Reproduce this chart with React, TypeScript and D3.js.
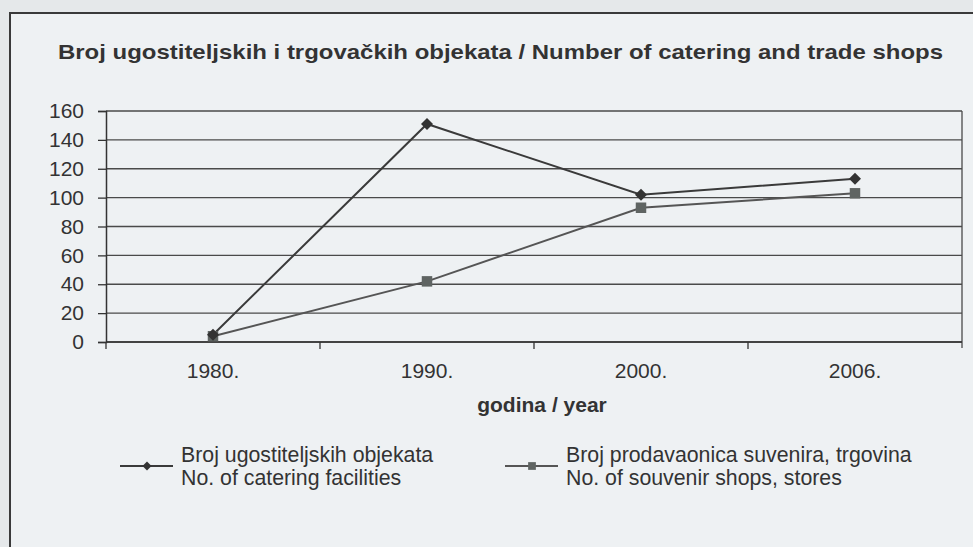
import React, { useEffect, useRef } from "react";
import * as d3 from "d3";

const years = ["1980.", "1990.", "2000.", "2006."];
const catering = [5, 151, 102, 113];
const souvenir = [4, 42, 93, 103];
const yTicks = [0, 20, 40, 60, 80, 100, 120, 140, 160];

const title = "Broj ugostiteljskih i trgovačkih objekata / Number of catering and trade shops";
const xTitle = "godina / year";
const legend1 = ["Broj ugostiteljskih objekata", "No. of catering facilities"];
const legend2 = ["Broj prodavaonica suvenira, trgovina", "No. of souvenir shops, stores"];

export default function App() {
  const ref = useRef<SVGSVGElement>(null);

  useEffect(() => {
    var width = 973,
      height = 547;
    var margin = { top: 111, right: 11, bottom: 205, left: 106 };
    var font = "'Liberation Sans', Arial, sans-serif";
    var ink = "#333";

    var svg = d3.select(ref.current);
    svg.selectAll("*").remove();
    svg.attr("width", width).attr("height", height);

    // paper + frame
    svg.append("rect").attr("width", width).attr("height", height).attr("fill", "#e5e8ea");
    svg
      .append("rect")
      .attr("x", 10)
      .attr("y", 13)
      .attr("width", width + 10)
      .attr("height", height + 10)
      .attr("fill", "#eef1f3")
      .attr("stroke", "#3a3a3a")
      .attr("stroke-width", 2);

    svg
      .append("text")
      .attr("x", 58)
      .attr("y", 59)
      .attr("textLength", 885)
      .attr("lengthAdjust", "spacingAndGlyphs")
      .attr("font-family", font)
      .attr("font-weight", "bold")
      .attr("font-size", 20.5)
      .attr("fill", ink)
      .text(title);

    var x = d3
      .scaleBand()
      .domain(years)
      .range([margin.left, width - margin.right]);
    var y = d3
      .scaleLinear()
      .domain([0, 160])
      .range([height - margin.bottom, margin.top]);

    var g = svg.append("g");

    // gridlines
    g.selectAll(".grid")
      .data(yTicks)
      .enter()
      .append("line")
      .attr("x1", margin.left)
      .attr("x2", width - margin.right)
      .attr("y1", d => y(d))
      .attr("y2", d => y(d))
      .attr("stroke", "#4a4a4a")
      .attr("stroke-width", 1.3);

    // right border
    g.append("line")
      .attr("x1", width - margin.right)
      .attr("x2", width - margin.right)
      .attr("y1", y(160))
      .attr("y2", y(0) + 6)
      .attr("stroke", "#4a4a4a")
      .attr("stroke-width", 1.3);

    // y axis
    var yAxis = g
      .append("g")
      .attr("transform", "translate(" + margin.left + ",0)")
      .call(d3.axisLeft(y).tickValues(yTicks).tickSize(8).tickPadding(14));
    yAxis.select(".domain").attr("stroke", ink).attr("stroke-width", 1.5);
    yAxis.selectAll(".tick line").attr("stroke", ink).attr("stroke-width", 1.3);
    yAxis
      .selectAll(".tick text")
      .attr("font-family", font)
      .attr("font-size", 21)
      .attr("fill", ink);

    // x axis with ticks at band boundaries
    var xAxisG = g.append("g").attr("transform", "translate(0," + y(0) + ")");
    xAxisG
      .append("line")
      .attr("x1", margin.left)
      .attr("x2", width - margin.right)
      .attr("stroke", ink)
      .attr("stroke-width", 1.5);
    xAxisG
      .selectAll(".xt")
      .data(years)
      .enter()
      .append("line")
      .attr("x1", d => x(d)!)
      .attr("x2", d => x(d)!)
      .attr("y1", 0)
      .attr("y2", 7)
      .attr("stroke", ink)
      .attr("stroke-width", 1.3);
    xAxisG
      .selectAll(".xl")
      .data(years)
      .enter()
      .append("text")
      .attr("x", d => x(d)! + x.bandwidth() / 2)
      .attr("y", 36)
      .attr("text-anchor", "middle")
      .attr("font-family", font)
      .attr("font-size", 21)
      .attr("fill", ink)
      .text(d => d);

    svg
      .append("text")
      .attr("x", 542)
      .attr("y", 412)
      .attr("text-anchor", "middle")
      .attr("font-family", font)
      .attr("font-weight", "bold")
      .attr("font-size", 21)
      .attr("fill", ink)
      .text(xTitle);

    var cx = (i: number) => x(years[i])! + x.bandwidth() / 2;
    var line = d3
      .line<number>()
      .x((d, i) => cx(i))
      .y(d => y(d));

    // diamond drawn as a square turned 45 degrees, as in the print
    var diamond = d3.symbol().type(d3.symbolSquare).size(72);
    var square = d3.symbol().type(d3.symbolSquare).size(110);

    g.append("path")
      .attr("d", line(souvenir))
      .attr("fill", "none")
      .attr("stroke", "#555")
      .attr("stroke-width", 2);
    g.append("path")
      .attr("d", line(catering))
      .attr("fill", "none")
      .attr("stroke", "#3a3a3a")
      .attr("stroke-width", 2);

    g.selectAll(".sq")
      .data(souvenir)
      .enter()
      .append("path")
      .attr("d", square()!)
      .attr("transform", (d, i) => "translate(" + cx(i) + "," + y(d) + ")")
      .attr("fill", "#5f6462");
    g.selectAll(".dm")
      .data(catering)
      .enter()
      .append("path")
      .attr("d", diamond()!)
      .attr("transform", (d, i) => "translate(" + cx(i) + "," + y(d) + ") rotate(45)")
      .attr("fill", "#333");

    // legend
    var items = [
      { x: 120, label: legend1, d: d3.symbol().type(d3.symbolSquare).size(40)()!, rot: 45, fill: "#333", stroke: "#3a3a3a" },
      { x: 505, label: legend2, d: d3.symbol().type(d3.symbolSquare).size(60)()!, rot: 0, fill: "#5f6462", stroke: "#555" },
    ];
    var leg = svg
      .selectAll(".leg")
      .data(items)
      .enter()
      .append("g")
      .attr("transform", d => "translate(" + d.x + ",466)");
    leg
      .append("line")
      .attr("x1", 0)
      .attr("x2", 53)
      .attr("stroke", d => d.stroke)
      .attr("stroke-width", 2);
    leg
      .append("path")
      .attr("d", d => d.d)
      .attr("transform", d => "translate(27,0) rotate(" + d.rot + ")")
      .attr("fill", d => d.fill);
    leg.each(function (d) {
      var t = d3.select(this);
      d.label.forEach((s, k) => {
        t.append("text")
          .attr("x", 61)
          .attr("y", -4 + k * 23)
          .attr("font-family", font)
          .attr("font-size", 21.3)
          .attr("fill", ink)
          .text(s);
      });
    });
  }, []);

  return (
    <div style={{ position: "absolute", left: 0, top: 0 }}>
      <svg ref={ref} style={{ display: "block" }} />
    </div>
  );
}
